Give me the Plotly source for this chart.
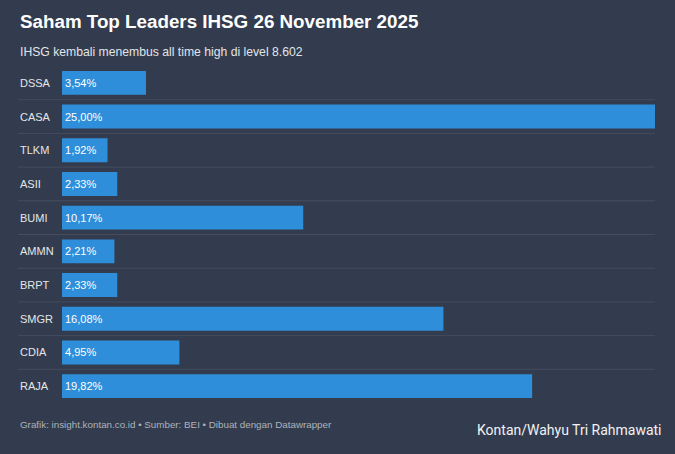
import plotly.graph_objects as go

categories = ["DSSA", "CASA", "TLKM", "ASII", "BUMI", "AMMN", "BRPT", "SMGR", "CDIA", "RAJA"]
values = [3.54, 25.00, 1.92, 2.33, 10.17, 2.21, 2.33, 16.08, 4.95, 19.82]
labels = [f"{v:.2f}".replace(".", ",") + "%" for v in values]

BG = "#323c4e"
BAR = "#2f8ed9"
FONT = "Liberation Sans, Arial, sans-serif"

fig = go.Figure()
fig.add_trace(go.Bar(
    x=values, y=categories, orientation="h",
    marker=dict(color=BAR, line=dict(width=0)),
    text=labels, textposition="inside", insidetextanchor="start",
    textfont=dict(color="white", size=11, family=FONT),
    constraintext="none", cliponaxis=False, hoverinfo="skip",
))

# row separators
for i in range(len(categories) - 1):
    fig.add_shape(type="line", xref="paper", yref="y",
                  x0=-44/593, x1=1, y0=i + 0.5, y1=i + 0.5,
                  line=dict(color="#434d5e", width=1), layer="below")

# left-aligned category labels
for c in categories:
    fig.add_annotation(x=0, xref="paper", xshift=-44, xanchor="left",
                       y=c, yref="y", text=c, showarrow=False,
                       font=dict(color="#e6e6e6", size=11, family=FONT))

texts = [
    dict(text="<b>Saham Top Leaders IHSG 26 November 2025</b>", y=22, size=18.8, color="#ffffff", x=18, anchor="left", family=FONT),
    dict(text="IHSG kembali menembus all time high di level 8.602", y=52, size=12.2, color="#e2e4e8", x=18, anchor="left", family=FONT),
    dict(text="Grafik: insight.kontan.co.id • Sumber: BEI • Dibuat dengan Datawrapper", y=424, size=9.8, color="#aeb3bb", x=18, anchor="left", family=FONT),
    dict(text="Kontan/Wahyu Tri Rahmawati", y=430, size=14, color="#f2f2f2", x=664, anchor="right", family="Roboto, sans-serif"),
]
for t in texts:
    fig.add_annotation(xref="paper", yref="paper",
                       x=(t["x"] - 62) / 593, y=1 - (t["y"] - 66) / 337,
                       xanchor=t["anchor"], yanchor="middle", text=t["text"], showarrow=False,
                       font=dict(size=t["size"], color=t["color"], family=t["family"]))

fig.update_layout(
    width=675, height=454,
    margin=dict(l=62, r=20, t=66, b=51),
    paper_bgcolor=BG, plot_bgcolor=BG,
    bargap=0.29, showlegend=False,
    xaxis=dict(range=[0, 25], showgrid=False, zeroline=False, showticklabels=False, fixedrange=True),
    yaxis=dict(autorange="reversed", showgrid=False, zeroline=False, showticklabels=False, fixedrange=True),
)

fig.write_html("out.html", config={"displayModeBar": False},
               post_script="document.body.style.margin='0';document.body.style.padding='0';document.body.style.background='" + BG + "';")
